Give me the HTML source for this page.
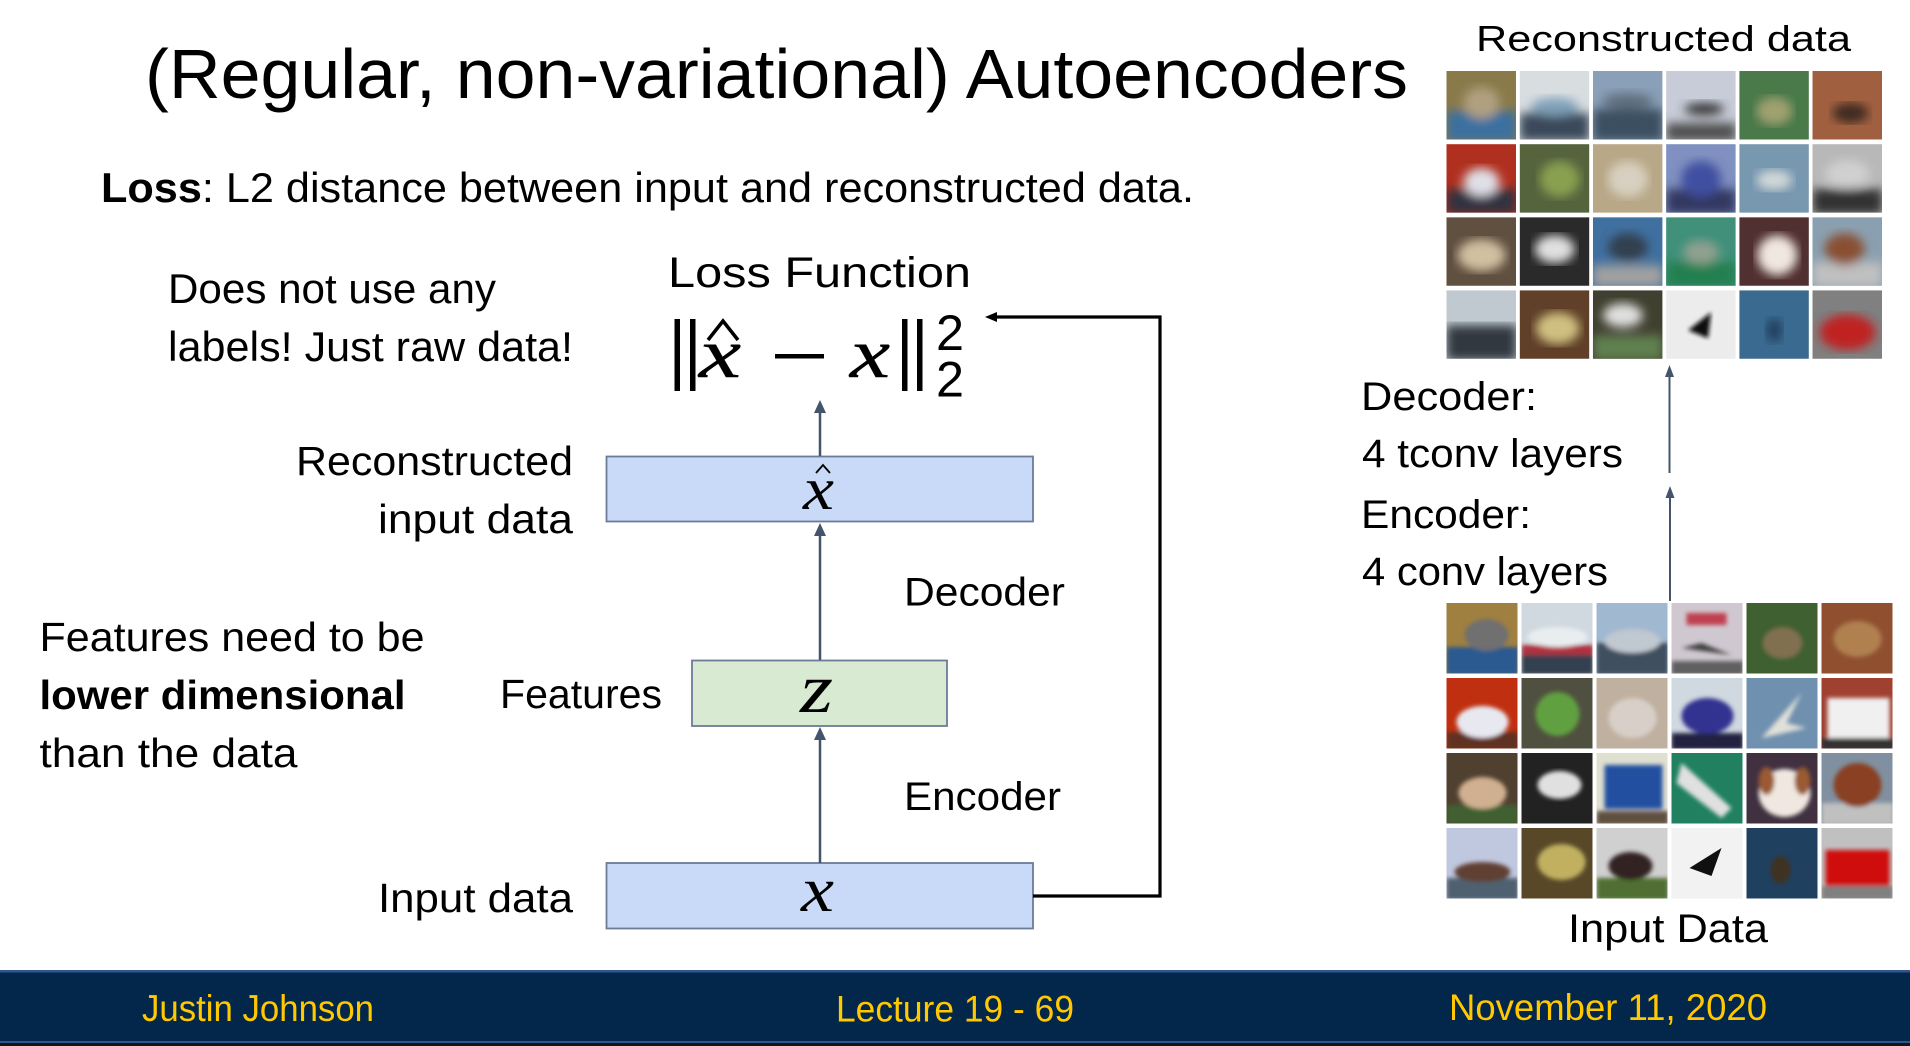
<!DOCTYPE html>
<html><head><meta charset="utf-8"><style>
html,body{margin:0;padding:0;background:#fff;}
svg{display:block;}
text{font-family:"Liberation Sans",sans-serif;fill:#000;}
.m{font-family:"Liberation Serif",serif;font-style:italic;}
</style></head><body>
<svg width="1910" height="1046" viewBox="0 0 1910 1046" xmlns="http://www.w3.org/2000/svg">
<rect width="1910" height="1046" fill="#fff"/>

<!-- Title -->
<text x="145" y="98" font-size="70" textLength="1263" lengthAdjust="spacingAndGlyphs">(Regular, non-variational) Autoencoders</text>
<text x="101" y="202" font-size="42" textLength="1093" lengthAdjust="spacingAndGlyphs"><tspan font-weight="bold">Loss</tspan>: L2 distance between input and reconstructed data.</text>

<!-- Left texts -->
<text x="168" y="303" font-size="42" textLength="328" lengthAdjust="spacingAndGlyphs">Does not use any</text>
<text x="168" y="361" font-size="42" textLength="405" lengthAdjust="spacingAndGlyphs">labels! Just raw data!</text>
<text x="296" y="475" font-size="41" textLength="277" lengthAdjust="spacingAndGlyphs">Reconstructed</text>
<text x="378" y="533" font-size="41" textLength="195" lengthAdjust="spacingAndGlyphs">input data</text>
<text x="39.5" y="651" font-size="41" textLength="385" lengthAdjust="spacingAndGlyphs">Features need to be</text>
<text x="39.5" y="709" font-size="41" font-weight="bold" textLength="366" lengthAdjust="spacingAndGlyphs">lower dimensional</text>
<text x="39.5" y="767" font-size="41" textLength="258" lengthAdjust="spacingAndGlyphs">than the data</text>
<text x="500" y="708" font-size="41" textLength="162" lengthAdjust="spacingAndGlyphs">Features</text>
<text x="378" y="912" font-size="41" textLength="195" lengthAdjust="spacingAndGlyphs">Input data</text>
<text x="904" y="605.5" font-size="40" textLength="161" lengthAdjust="spacingAndGlyphs">Decoder</text>
<text x="904" y="810" font-size="40" textLength="157" lengthAdjust="spacingAndGlyphs">Encoder</text>

<!-- Loss function -->
<text x="668" y="287" font-size="43" textLength="303" lengthAdjust="spacingAndGlyphs">Loss Function</text>
<rect x="674.5" y="319" width="5.5" height="72" fill="#000"/>
<rect x="690" y="319" width="5.5" height="72" fill="#000"/>
<text class="m" x="699" y="377" font-size="70" textLength="42" lengthAdjust="spacingAndGlyphs" stroke="#000" stroke-width="0.5">x</text>
<path d="M708,340 L723,321 L738,340" fill="none" stroke="#000" stroke-width="3.5"/>
<rect x="775" y="354" width="49" height="4.5" fill="#000"/>
<text class="m" x="850" y="377" font-size="70" textLength="40" lengthAdjust="spacingAndGlyphs" stroke="#000" stroke-width="0.5">x</text>
<rect x="902" y="319" width="5.5" height="72" fill="#000"/>
<rect x="917" y="319" width="5.5" height="72" fill="#000"/>
<text x="936" y="350" font-size="50" textLength="28" lengthAdjust="spacingAndGlyphs">2</text>
<text x="936" y="396.5" font-size="50" textLength="28" lengthAdjust="spacingAndGlyphs">2</text>

<!-- Boxes -->
<rect x="606.5" y="456.5" width="426.5" height="65" fill="#c9daf8" stroke="#6b7b98" stroke-width="1.8"/>
<text class="m" x="803" y="509" font-size="60" textLength="31" lengthAdjust="spacingAndGlyphs">x</text>
<path d="M816,473 L823,465 L830,473" fill="none" stroke="#000" stroke-width="1.8"/>
<rect x="692" y="660.5" width="255" height="65.5" fill="#d9ead3" stroke="#6b7b98" stroke-width="1.8"/>
<text class="m" x="800" y="712" font-size="70" textLength="33" lengthAdjust="spacingAndGlyphs">z</text>
<rect x="606.5" y="863" width="426.5" height="65.5" fill="#c9daf8" stroke="#6b7b98" stroke-width="1.8"/>
<text class="m" x="801" y="911" font-size="64" textLength="33" lengthAdjust="spacingAndGlyphs">x</text>

<!-- Arrows -->
<g stroke="#44546a" stroke-width="2.5">
<line x1="820" y1="456" x2="820" y2="410"/>
<line x1="820" y1="660" x2="820" y2="534"/>
<line x1="820" y1="863" x2="820" y2="737"/>
</g>
<g fill="#44546a">
<polygon points="820,400 814,413 826,413"/>
<polygon points="820,523 814,536 826,536"/>
<polygon points="820,727 814,740 826,740"/>
</g>
<polyline points="1033,896 1160,896 1160,317 995,317" fill="none" stroke="#000" stroke-width="3.2"/>
<polygon points="985,317 997,312 997,322" fill="#000"/>

<!-- Right side -->
<text x="1476" y="51" font-size="36" textLength="375" lengthAdjust="spacingAndGlyphs">Reconstructed data</text>
<text x="1361" y="410" font-size="40" textLength="176" lengthAdjust="spacingAndGlyphs">Decoder:</text>
<text x="1362" y="467" font-size="40" textLength="261" lengthAdjust="spacingAndGlyphs">4 tconv layers</text>
<text x="1361" y="528" font-size="40" textLength="170" lengthAdjust="spacingAndGlyphs">Encoder:</text>
<text x="1362" y="585" font-size="40" textLength="246" lengthAdjust="spacingAndGlyphs">4 conv layers</text>
<text x="1568" y="942" font-size="40" textLength="200" lengthAdjust="spacingAndGlyphs">Input Data</text>
<g stroke="#44546a" stroke-width="2">
<line x1="1669.5" y1="473" x2="1669.5" y2="374"/>
<line x1="1670" y1="601" x2="1670" y2="495"/>
</g>
<g fill="#44546a">
<polygon points="1669.5,365 1665,377 1674,377"/>
<polygon points="1670,486 1665.5,498 1674.5,498"/>
</g>

<defs>
<filter id="bl" x="-10%" y="-10%" width="120%" height="120%"><feGaussianBlur stdDeviation="5"/></filter>
<filter id="bl2" x="-10%" y="-10%" width="120%" height="120%"><feGaussianBlur stdDeviation="2"/></filter>
<clipPath id="cr"><rect width="69.5" height="68.5"/></clipPath>
<clipPath id="ci"><rect width="71" height="70.5"/></clipPath>
</defs>

<!-- Reconstructed grid (blurry) -->
<g id="recon">
<g transform="translate(1446.5,71)" clip-path="url(#cr)"><rect width="70" height="69" fill="#8a7a4a"/><g filter="url(#bl)"><rect y="40" width="70" height="30" fill="#3a6fa0"/><ellipse cx="35" cy="32" rx="18" ry="16" fill="#b0a080"/></g></g>
<g transform="translate(1519.7,71)" clip-path="url(#cr)"><rect width="70" height="69" fill="#d8dde0"/><g filter="url(#bl)"><rect y="42" width="70" height="28" fill="#3a4a5a"/><ellipse cx="35" cy="36" rx="24" ry="9" fill="#7fa0b8"/></g></g>
<g transform="translate(1592.9,71)" clip-path="url(#cr)"><rect width="70" height="69" fill="#8aa0b8"/><g filter="url(#bl)"><rect y="38" width="70" height="32" fill="#3a5060"/><ellipse cx="35" cy="30" rx="26" ry="8" fill="#607080"/></g></g>
<g transform="translate(1666.1,71)" clip-path="url(#cr)"><rect width="70" height="69" fill="#c8ccd8"/><g filter="url(#bl)"><rect y="52" width="70" height="18" fill="#505050"/><ellipse cx="38" cy="38" rx="20" ry="6" fill="#303030"/></g></g>
<g transform="translate(1739.3,71)" clip-path="url(#cr)"><rect width="70" height="69" fill="#4a7a4a"/><g filter="url(#bl)"><ellipse cx="35" cy="40" rx="18" ry="14" fill="#a0a070"/></g></g>
<g transform="translate(1812.5,71)" clip-path="url(#cr)"><rect width="70" height="69" fill="#a06040"/><g filter="url(#bl)"><ellipse cx="38" cy="42" rx="18" ry="10" fill="#402a20"/></g></g>

<g transform="translate(1446.5,144.1)" clip-path="url(#cr)"><rect width="70" height="69" fill="#b03020"/><g filter="url(#bl)"><rect y="45" width="70" height="25" fill="#303040"/><ellipse cx="35" cy="38" rx="18" ry="14" fill="#e0e0e8"/></g></g>
<g transform="translate(1519.7,144.1)" clip-path="url(#cr)"><rect width="70" height="69" fill="#56643e"/><g filter="url(#bl)"><ellipse cx="40" cy="35" rx="20" ry="18" fill="#88a050"/></g></g>
<g transform="translate(1592.9,144.1)" clip-path="url(#cr)"><rect width="70" height="69" fill="#b8a888"/><g filter="url(#bl)"><ellipse cx="35" cy="35" rx="20" ry="18" fill="#d8d0c0"/></g></g>
<g transform="translate(1666.1,144.1)" clip-path="url(#cr)"><rect width="70" height="69" fill="#8090c0"/><g filter="url(#bl)"><rect y="45" width="70" height="25" fill="#303860"/><ellipse cx="35" cy="35" rx="20" ry="18" fill="#4050a0"/></g></g>
<g transform="translate(1739.3,144.1)" clip-path="url(#cr)"><rect width="70" height="69" fill="#7898b0"/><g filter="url(#bl)"><ellipse cx="35" cy="36" rx="18" ry="10" fill="#d0d8d8"/></g></g>
<g transform="translate(1812.5,144.1)" clip-path="url(#cr)"><rect width="70" height="69" fill="#b8b8b8"/><g filter="url(#bl)"><rect y="45" width="70" height="25" fill="#303030"/><ellipse cx="35" cy="30" rx="22" ry="14" fill="#d0d0d0"/></g></g>

<g transform="translate(1446.5,217.2)" clip-path="url(#cr)"><rect width="70" height="69" fill="#605040"/><g filter="url(#bl)"><ellipse cx="35" cy="38" rx="24" ry="16" fill="#d0c0a0"/></g></g>
<g transform="translate(1519.7,217.2)" clip-path="url(#cr)"><rect width="70" height="69" fill="#2a2a2a"/><g filter="url(#bl)"><ellipse cx="35" cy="32" rx="20" ry="14" fill="#e0e0e0"/></g></g>
<g transform="translate(1592.9,217.2)" clip-path="url(#cr)"><rect width="70" height="69" fill="#4070a0"/><g filter="url(#bl)"><rect y="48" width="70" height="22" fill="#a0a0a0"/><ellipse cx="35" cy="30" rx="20" ry="14" fill="#304050"/></g></g>
<g transform="translate(1666.1,217.2)" clip-path="url(#cr)"><rect width="70" height="69" fill="#40907a"/><g filter="url(#bl)"><rect y="45" width="70" height="25" fill="#208050"/><ellipse cx="35" cy="35" rx="18" ry="12" fill="#90a090"/></g></g>
<g transform="translate(1739.3,217.2)" clip-path="url(#cr)"><rect width="70" height="69" fill="#503030"/><g filter="url(#bl)"><ellipse cx="38" cy="38" rx="20" ry="20" fill="#f0e8e0"/></g></g>
<g transform="translate(1812.5,217.2)" clip-path="url(#cr)"><rect width="70" height="69" fill="#8aa0b0"/><g filter="url(#bl)"><rect y="45" width="70" height="25" fill="#c0c0c0"/><ellipse cx="32" cy="32" rx="20" ry="16" fill="#8a5030"/></g></g>

<g transform="translate(1446.5,290.3)" clip-path="url(#cr)"><rect width="70" height="69" fill="#c0c8d0"/><g filter="url(#bl)"><rect y="35" width="70" height="35" fill="#303840"/></g></g>
<g transform="translate(1519.7,290.3)" clip-path="url(#cr)"><rect width="70" height="69" fill="#604028"/><g filter="url(#bl)"><ellipse cx="38" cy="38" rx="22" ry="16" fill="#d0c080"/></g></g>
<g transform="translate(1592.9,290.3)" clip-path="url(#cr)"><rect width="70" height="69" fill="#404030"/><g filter="url(#bl)"><rect y="45" width="70" height="25" fill="#608050"/><ellipse cx="30" cy="25" rx="20" ry="12" fill="#e0e0e0"/></g></g>
<g transform="translate(1666.1,290.3)" clip-path="url(#cr)"><rect width="70" height="69" fill="#ececec"/><g filter="url(#bl2)"><polygon points="22,40 45,22 42,48" fill="#101010"/></g></g>
<g transform="translate(1739.3,290.3)" clip-path="url(#cr)"><rect width="70" height="69" fill="#3a6a90"/><g filter="url(#bl)"><ellipse cx="35" cy="40" rx="8" ry="12" fill="#204060"/></g></g>
<g transform="translate(1812.5,290.3)" clip-path="url(#cr)"><rect width="70" height="69" fill="#808080"/><g filter="url(#bl)"><ellipse cx="35" cy="42" rx="28" ry="18" fill="#c02020"/></g></g>
</g>

<!-- Input grid -->
<g id="input">
<g transform="translate(1446.5,603)" clip-path="url(#ci)"><rect width="72" height="72" fill="#a08040"/><g filter="url(#bl2)"><rect y="44" width="72" height="28" fill="#2a5a90"/><ellipse cx="40" cy="32" rx="22" ry="16" fill="#6f6f6f"/></g></g>
<g transform="translate(1521.5,603)" clip-path="url(#ci)"><rect width="72" height="72" fill="#d0d8e0"/><g filter="url(#bl2)"><rect y="48" width="72" height="24" fill="#304050"/><rect y="42" width="72" height="10" fill="#b03040"/><ellipse cx="36" cy="34" rx="30" ry="10" fill="#e8eef0"/></g></g>
<g transform="translate(1596.5,603)" clip-path="url(#ci)"><rect width="72" height="72" fill="#a0b8d0"/><g filter="url(#bl2)"><rect y="40" width="72" height="32" fill="#405060"/><ellipse cx="36" cy="38" rx="28" ry="12" fill="#c0c8d0"/></g></g>
<g transform="translate(1671.5,603)" clip-path="url(#ci)"><rect width="72" height="72" fill="#d0c8d0"/><g filter="url(#bl2)"><rect x="15" y="10" width="40" height="12" fill="#c04050"/><rect y="58" width="72" height="14" fill="#606060"/><polygon points="10,45 60,52 30,40" fill="#404040"/></g></g>
<g transform="translate(1746.5,603)" clip-path="url(#ci)"><rect width="72" height="72" fill="#3f6030"/><g filter="url(#bl2)"><ellipse cx="36" cy="40" rx="20" ry="16" fill="#807050"/></g></g>
<g transform="translate(1821.5,603)" clip-path="url(#ci)"><rect width="72" height="72" fill="#905030"/><g filter="url(#bl2)"><ellipse cx="36" cy="36" rx="24" ry="18" fill="#b08050"/></g></g>

<g transform="translate(1446.5,678)" clip-path="url(#ci)"><rect width="72" height="72" fill="#c03010"/><g filter="url(#bl2)"><rect y="54" width="72" height="18" fill="#603020"/><ellipse cx="36" cy="44" rx="26" ry="16" fill="#e8e8f0"/></g></g>
<g transform="translate(1521.5,678)" clip-path="url(#ci)"><rect width="72" height="72" fill="#505040"/><g filter="url(#bl2)"><ellipse cx="36" cy="36" rx="22" ry="22" fill="#60a040"/></g></g>
<g transform="translate(1596.5,678)" clip-path="url(#ci)"><rect width="72" height="72" fill="#c0b0a0"/><g filter="url(#bl2)"><ellipse cx="36" cy="40" rx="24" ry="20" fill="#d8d0c8"/></g></g>
<g transform="translate(1671.5,678)" clip-path="url(#ci)"><rect width="72" height="72" fill="#d0d8e0"/><g filter="url(#bl2)"><rect y="55" width="72" height="17" fill="#202040"/><ellipse cx="36" cy="38" rx="26" ry="18" fill="#303090"/></g></g>
<g transform="translate(1746.5,678)" clip-path="url(#ci)"><rect width="72" height="72" fill="#7090b0"/><g filter="url(#bl2)"><polygon points="15,60 55,15 40,45 60,50" fill="#e0e0d8"/></g></g>
<g transform="translate(1821.5,678)" clip-path="url(#ci)"><rect width="72" height="72" fill="#a04030"/><g filter="url(#bl2)"><rect x="6" y="20" width="62" height="42" fill="#f0f0f0"/><rect y="60" width="72" height="12" fill="#303030"/></g></g>

<g transform="translate(1446.5,753)" clip-path="url(#ci)"><rect width="72" height="72" fill="#504030"/><g filter="url(#bl2)"><rect y="52" width="72" height="20" fill="#406030"/><ellipse cx="36" cy="40" rx="24" ry="16" fill="#d0b090"/></g></g>
<g transform="translate(1521.5,753)" clip-path="url(#ci)"><rect width="72" height="72" fill="#222"/><g filter="url(#bl2)"><ellipse cx="38" cy="32" rx="22" ry="14" fill="#e0e0e0"/></g></g>
<g transform="translate(1596.5,753)" clip-path="url(#ci)"><rect width="72" height="72" fill="#e0e0d0"/><g filter="url(#bl2)"><rect y="58" width="72" height="14" fill="#605040"/><rect x="8" y="12" width="58" height="44" fill="#2050a0"/></g></g>
<g transform="translate(1671.5,753)" clip-path="url(#ci)"><rect width="72" height="72" fill="#208060"/><g filter="url(#bl2)"><polygon points="10,10 60,55 50,65 5,30" fill="#e0e0e0"/></g></g>
<g transform="translate(1746.5,753)" clip-path="url(#ci)"><rect width="72" height="72" fill="#403040"/><g filter="url(#bl2)"><ellipse cx="38" cy="40" rx="26" ry="24" fill="#f0e8e0"/><ellipse cx="20" cy="28" rx="8" ry="14" fill="#9a5a30"/><ellipse cx="56" cy="28" rx="8" ry="14" fill="#9a5a30"/></g></g>
<g transform="translate(1821.5,753)" clip-path="url(#ci)"><rect width="72" height="72" fill="#8090a0"/><g filter="url(#bl2)"><rect y="50" width="72" height="22" fill="#c0c0c0"/><ellipse cx="36" cy="32" rx="24" ry="22" fill="#8a4020"/></g></g>

<g transform="translate(1446.5,828)" clip-path="url(#ci)"><rect width="72" height="72" fill="#c0c8e0"/><g filter="url(#bl2)"><rect y="50" width="72" height="22" fill="#506070"/><ellipse cx="36" cy="44" rx="28" ry="10" fill="#604030"/></g></g>
<g transform="translate(1521.5,828)" clip-path="url(#ci)"><rect width="72" height="72" fill="#584828"/><g filter="url(#bl2)"><ellipse cx="40" cy="34" rx="24" ry="18" fill="#c0b060"/></g></g>
<g transform="translate(1596.5,828)" clip-path="url(#ci)"><rect width="72" height="72" fill="#d0d0d0"/><g filter="url(#bl2)"><rect y="50" width="72" height="22" fill="#507030"/><ellipse cx="34" cy="38" rx="22" ry="14" fill="#302020"/></g></g>
<g transform="translate(1671.5,828)" clip-path="url(#ci)"><rect width="72" height="72" fill="#f2f2f2"/><polygon points="18,40 50,20 40,48" fill="#101010"/></g>
<g transform="translate(1746.5,828)" clip-path="url(#ci)"><rect width="72" height="72" fill="#204060"/><g filter="url(#bl2)"><ellipse cx="34" cy="42" rx="10" ry="14" fill="#403020"/></g></g>
<g transform="translate(1821.5,828)" clip-path="url(#ci)"><rect width="72" height="72" fill="#c0c0c0"/><g filter="url(#bl2)"><rect y="58" width="72" height="14" fill="#808080"/><rect x="4" y="22" width="64" height="36" fill="#d01010"/></g></g>
</g>

<!-- Footer -->
<rect x="0" y="970" width="1910" height="76" fill="#03274b"/>
<rect x="0" y="970" width="1910" height="2.5" fill="#30568f"/>
<rect x="0" y="1041" width="1910" height="2" fill="#30568f"/>
<rect x="0" y="1043" width="1910" height="3" fill="#161616"/>
<text x="142" y="1021" font-size="37" textLength="232" lengthAdjust="spacingAndGlyphs" style="fill:#ffc800">Justin Johnson</text>
<text x="836" y="1021.5" font-size="37" textLength="238" lengthAdjust="spacingAndGlyphs" style="fill:#ffc800">Lecture 19 - 69</text>
<text x="1449" y="1020" font-size="37" textLength="318" lengthAdjust="spacingAndGlyphs" style="fill:#ffc800">November 11, 2020</text>
</svg>
</body></html>
